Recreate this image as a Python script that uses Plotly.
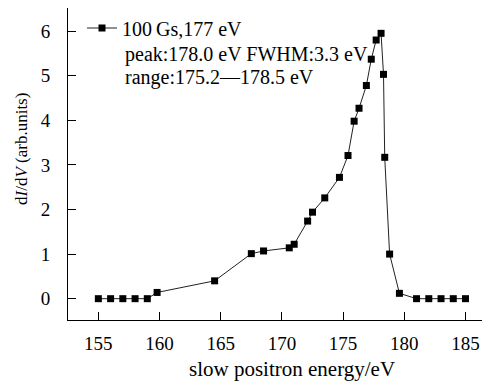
import plotly.graph_objects as go

energy = [155, 156, 157, 158, 159, 159.8, 164.5, 167.5, 168.5, 170.6, 171.0, 172.1, 172.5,
          173.5, 174.7, 175.4, 175.9, 176.3, 176.9, 177.3, 177.7, 178.1, 178.3, 178.4,
          178.8, 179.6, 181, 182, 183, 184, 185]
didv = [0, 0, 0, 0, 0, 0.14, 0.40, 1.01, 1.07, 1.14, 1.22, 1.74, 1.94,
        2.26, 2.72, 3.21, 3.98, 4.27, 4.78, 5.37, 5.80, 5.95, 5.03, 3.17,
        1.00, 0.12, 0, 0, 0, 0, 0]
series_name = "100\u2009Gs,177 eV"
info_lines = ["peak:178.0 eV FWHM:3.3 eV", "range:175.2\u2014178.5 eV"]
x_ticks = [155, 160, 165, 170, 175, 180, 185]
y_ticks = [0, 1, 2, 3, 4, 5, 6]

FONT = "Liberation Serif"
# page has an 8px body margin; figure drawn 8px in from the window edge
W, H = 482, 373
L, R, T, B = 60, 1, 0, 61
pw, ph = W - L - R, H - T - B


def px_x(p):
    return (p - L) / pw


def px_y(p):
    return 1 - (p - T) / ph


fig = go.Figure()
fig.add_trace(go.Scatter(
    x=energy, y=didv, mode="lines+markers", name=series_name,
    line=dict(color="#222222", width=1),
    marker=dict(symbol="square", size=7, color="black"),
))

annotations = []
for i, t in enumerate(info_lines):
    annotations.append(dict(text=t, xref="paper", yref="paper", x=px_x(115), y=px_y(46 + 23 * i),
                            xanchor="left", yanchor="middle", showarrow=False,
                            font=dict(family=FONT, size=20, color="black")))
annotations.append(dict(text="slow positron energy/eV", xref="paper", yref="paper",
                        x=px_x(284), y=px_y(361), xanchor="center", yanchor="middle",
                        showarrow=False, font=dict(family=FONT, size=21, color="black")))
annotations.append(dict(text="d<i>I</i>/d<i>V</i> (arb.units)", xref="paper", yref="paper",
                        x=px_x(14), y=px_y(141), xanchor="center", yanchor="middle",
                        textangle=-90, showarrow=False,
                        font=dict(family=FONT, size=17, color="black")))

fig.update_layout(
    width=W, height=H,
    margin=dict(l=L, r=R, t=T, b=B, autoexpand=False),
    paper_bgcolor="white", plot_bgcolor="white",
    font=dict(family=FONT, size=19, color="black"),
    showlegend=True,
    legend=dict(x=px_x(74), y=px_y(20), xanchor="left", yanchor="middle",
                bgcolor="rgba(0,0,0,0)", font=dict(family=FONT, size=20, color="black"),
                itemwidth=30, tracegroupgap=0),
    annotations=annotations,
    xaxis=dict(range=[152.52, 186.92], tickvals=x_ticks, ticks="inside", ticklen=8,
               tickcolor="black", showline=True, linecolor="black", linewidth=1,
               showgrid=False, zeroline=False, mirror=False, ticklabelstandoff=6,
               tickfont=dict(family=FONT, size=19)),
    yaxis=dict(range=[-0.478, 6.518], tickvals=y_ticks, ticks="inside", ticklen=8,
               tickcolor="black", showline=True, linecolor="black", linewidth=1,
               showgrid=False, zeroline=False, mirror=False, ticklabelstandoff=13,
               tickfont=dict(family=FONT, size=19)),
)

fig.write_html("out.html")
